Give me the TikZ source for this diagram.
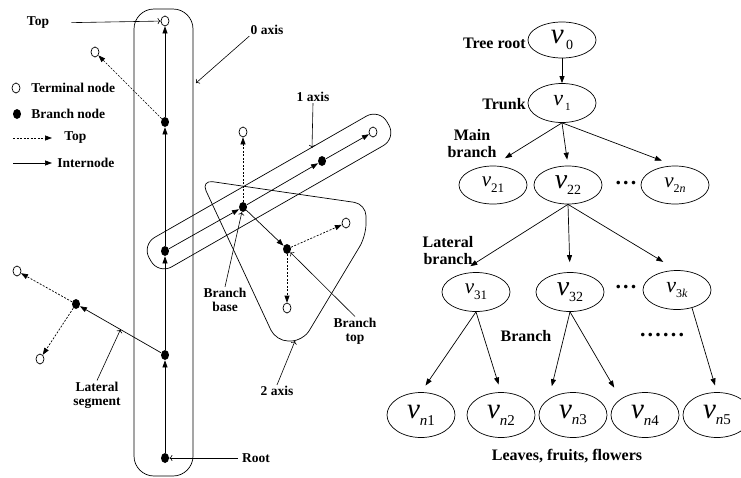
\documentclass[tikz,border=0pt]{standalone}
\usepackage{fontspec}
\setmainfont{Liberation Serif}
\usetikzlibrary{arrows.meta,shapes.geometric,calc}

% italic v with a lowered index
\newcommand{\vsub}[3]{{\fontsize{#1}{#1}\selectfont\itshape v}{\fontsize{#2}{#2}\selectfont\raisebox{-.45em}{#3}}}
% heavy dot
\newcommand{\hdot}{.\kern2.2pt}

\begin{document}
\begin{tikzpicture}[x=1pt, y=-1pt, line width=0.7pt,
        tip/.style={-{Triangle[length=7pt,width=5pt]}},
        note/.style={-{To[length=3pt,width=6pt]}, line width=0.6pt},
        dotline/.style={dash pattern=on 2pt off 1.5pt},
        term/.style={ellipse, draw, minimum width=8pt, minimum height=10pt, inner sep=0pt},
        bnode/.style={ellipse, fill, minimum width=8pt, minimum height=10pt, inner sep=0pt},
        capsule/.style={rectangle, draw, rounded corners=15pt, inner sep=0pt},
        lab/.style={font=\fontsize{13.5}{14}\selectfont\bfseries, align=center, inner sep=1pt},
        tlab/.style={font=\fontsize{16}{17}\selectfont\bfseries, align=center, inner sep=1pt},
        dotlab/.style={font=\fontsize{22}{22}\selectfont\bfseries, inner sep=0pt},
        vell/.style={ellipse, draw, minimum width=68pt, minimum height=38pt, inner sep=0pt}
    ]
        \clip (0,0) rectangle (741,477);

        % Legend
        \node[term] (lgt) at (16,88) {};
        \node[lab, anchor=west] at (30,88) {Terminal node};
        \node[bnode] (lgb) at (17,114) {};
        \node[lab, anchor=west] at (30,114) {Branch node};
        \coordinate (lg1a) at (13,138);
        \coordinate (lg1b) at (52,138);
        \draw[tip, dotline] (lg1a) -- (lg1b);
        \node[lab, anchor=west] at (63,138) {Top};
        \coordinate (lg2a) at (13,163);
        \coordinate (lg2b) at (52,163);
        \draw[tip] (lg2a) -- (lg2b);
        \node[lab, anchor=west] at (56,163) {Internode};

        % Axes
        \node[capsule, rounded corners=20pt, minimum width=59pt, minimum height=467pt] (ax0) at (163.5,242.5) {};
        \node[capsule, minimum width=274pt, minimum height=34pt, rotate=29.8] (ax1) at (269,191.5) {};
        \draw[rounded corners=12pt] (283,192) -- (366,204) -- (366,236) -- (303,341)
            -- (276,341) -- (201,180) -- (283,192);

        % Trunk
        \node[bnode] (r0) at (165,458) {};
        \node[bnode] (b1) at (165,355) {};
        \node[bnode] (b2) at (165,251) {};
        \node[bnode] (b3) at (165,122) {};
        \node[term] (t0) at (165,21) {};
        \node[term] (t1) at (95,52) {};
        \draw[tip] (r0) -- (b1);
        \draw[tip] (b1) -- (b2);
        \draw[tip] (b2) -- (b3);
        \draw[tip] (b3) -- (t0);
        \draw[tip, dotline] (b3) -- (t1);

        % Lateral segment
        \node[bnode] (lb) at (76,304) {};
        \node[term] (lt1) at (17,271) {};
        \node[term] (lt2) at (40,359) {};
        \draw[tip] (b1) -- (lb);
        \draw[tip, dotline] (lb) -- (lt1);
        \draw[tip, dotline] (lb) -- (lt2);

        % 1 axis
        \node[bnode] (b11) at (243,207) {};
        \node[bnode] (b12) at (322,161) {};
        \node[term] (t12) at (373,132) {};
        \node[term] (t13) at (243,132) {};
        \draw[tip] (b2) -- (b11);
        \draw[tip] (b11) -- (b12);
        \draw[tip] (b12) -- (t12);
        \draw[tip, dotline] (b11) -- (t13);

        % 2 axis
        \node[bnode] (b21) at (287,249) {};
        \node[term] (t21) at (346,223) {};
        \node[term] (t22) at (287,308) {};
        \draw[tip] (b11) -- (b21);
        \draw[tip, dotline] (b21) -- (t21);
        \draw[tip, dotline] (b21) -- (t22);

        % Notes
        \node[lab] (toplab) at (38,23) {Top};
        \draw[note, shorten <=21pt] (toplab.east) -- (t0);
        \node[lab] (ax0lab) at (267,30) {0 axis};
        \coordinate (ax0pt) at (196,83);
        \draw[note] (ax0lab.south west) -- (ax0pt);
        \node[lab] (ax1lab) at (313,97) {1 axis};
        \coordinate (ax1pt) at (312,148);
        \draw[note] (ax1lab.south) -- (ax1pt);
        \node[lab] (ax2lab) at (277,391) {2 axis};
        \coordinate (ax2pt) at (295,341);
        \draw[note] (ax2lab.north) -- (ax2pt);
        \node[lab] (baselab) at (225,300) {Branch\\base};
        \draw[note] (baselab.north) -- (b11);
        \node[lab] (btoplab) at (355,331) {Branch\\top};
        \draw[note] (btoplab.north) -- (b21);
        \node[lab] (latlab) at (97,395) {Lateral\\segment};
        \path (b1) -- (lb) coordinate[pos=0.5] (latpt);
        \draw[note] (latlab.north) -- (latpt);
        \node[lab] (rootlab) at (256,458) {Root};
        \draw[note, shorten <=3pt] (rootlab.west) -- (r0);

        % Tree
        \node[vell, minimum height=36pt] (v0) at (562,40) {\vsub{29}{14}{\,0}};
        \node[vell, minimum height=39pt] (v1) at (562,103) {\vsub{22}{11}{\,1}};
        \node[vell] (v21) at (493,185) {\vsub{21}{13}{21}};
        \node[vell] (v22) at (568,185) {\vsub{28}{14}{22}};
        \node[vell] (v2n) at (675,185) {\vsub{21}{12}{2\textit{n}}};
        \node[vell, minimum height=39pt] (v31) at (476,292) {\vsub{21}{13}{31}};
        \node[vell, minimum height=39pt] (v32) at (570,292) {\vsub{28}{14}{32}};
        \node[vell, minimum height=39pt] (v3k) at (677,290) {\vsub{22}{12}{3\textit{k}}};
        \node[vell, minimum height=45pt] (vn1) at (421,415) {\vsub{29}{15}{\textit{n}1}};
        \node[vell, minimum height=45pt] (vn2) at (501,415) {\vsub{29}{15}{\textit{n}2}};
        \node[vell, minimum height=45pt] (vn3) at (573,415) {\vsub{29}{15}{\textit{n}3}};
        \node[vell, minimum height=45pt] (vn4) at (645,415) {\vsub{29}{15}{\textit{n}4}};
        \node[vell, minimum height=45pt] (vn5) at (717,415) {\vsub{29}{15}{\textit{n}5}};

        \draw[tip] (v0) -- (v1);
        \draw[tip, shorten >=14pt] (v1.south) -- (v21.north);
        \draw[tip, shorten >=6pt] (v1.south) -- (v22.north);
        \draw[tip, shorten >=14pt] (v1.south) -- (v2n.north);
        \draw[tip, shorten >=22pt] (v22.south) -- (v31.north west);
        \draw[tip, shorten >=10pt] (v22.south) -- (v32.north);
        \draw[tip, shorten >=16pt] (v22.south) -- (v3k.north);
        \draw[tip, shorten >=8pt] (v31.south) -- (vn1.north);
        \draw[tip, shorten >=8pt] (v31.south) -- (vn2.north);
        \draw[tip, shorten >=13pt] (v32.south) -- (vn3.north west);
        \draw[tip, shorten >=13pt] (v32.south) -- (vn4.north west);
        \draw[tip, shorten >=7pt] (v3k.-50) -- (vn5.north);

        \node[tlab, anchor=east] (rootl) at (527,43) {Tree root};
        \node[tlab, anchor=east] (trunkl) at (527,104) {Trunk};
        \node[tlab] (mainl) at (472,144) {Main\\branch};
        \node[tlab] (latl) at (448,251) {Lateral\\branch};
        \node[tlab] (branchl) at (526,336) {Branch};
        \node[dotlab] (dots2) at (626,183) {\hdot\hdot.};
        \node[dotlab] (dots3) at (626,287) {\hdot\hdot.};
        \node[dotlab] (dots4) at (662,335) {\hdot\hdot\hdot\hdot\hdot.};
        \node[tlab] (leafl) at (567,456) {Leaves, fruits, flowers};
    \end{tikzpicture}
\end{document}
